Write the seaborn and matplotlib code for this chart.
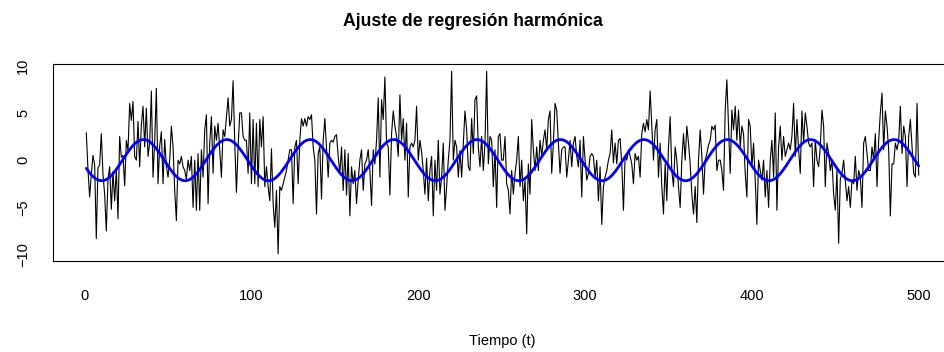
import numpy as np
import pandas as pd
import matplotlib
matplotlib.use("Agg")
import matplotlib.pyplot as plt
import seaborn as sns

# ---- data (t = 1..500) ----
seg01 = [2.9, -1.0, -3.9, -1.5, 0.5, -0.5, -8.3, -0.8, -0.5, 2.8, -1.5, -3.6, -7.5, -2.0, -0.7,
         -5.2, -1.2, -4.3, -1.0, -6.2, 2.5, 0.3, 0.5, -2.7, 2.1, 1.0, 6.0, 4.2, 6.2, 0.4,
         0.0, 4.1, -0.7, 3.7, 5.7, 1.4, 5.5, 0.4, 1.8, 7.3, -1.8, 2.0, 7.6, -2.5]
seg02 = [1.5, 3.0, -2.5, 2.2, -0.6, -1.8, 0.0, 3.6, 1.4, -3.2, -6.4, 0.0, -0.4, 0.4, -0.7,
         -1.1, -2.0, 0.0, -1.1, 0.4, -5.0, 0.0, -5.3, 0.7, -5.3, 1.1, -1.8, 3.2, 4.8, -4.6,
         1.8, 4.6, -1.4, 3.6, 2.1, 3.9, 1.0, -1.8, 3.2, 2.5, 4.6, 6.6, 3.6, 4.3, 8.4]
seg03 = [1.8, -3.4, 1.4, 5.0, 5.0, 2.5, 2.1, 2.1, -1.4, 5.0, -2.5, 4.3, -2.5, 3.9, -2.8,
         4.3, 1.4, 4.6, -2.8, -0.7, -2.8, -4.3, 1.2, -4.6, -7.1, -3.2, -9.9, -2.8, -3.2, -2.5,
         -1.8, -1.1, 0.0, 1.1, 1.1, -4.6, 1.4, 2.1, -2.5, 2.1, 4.4, 3.6, 4.4, 3.6, 4.6]
seg04 = [4.3, 4.8, 1.4, 0.0, -5.7, 0.7, 1.4, -4.1, 2.1, 4.4, 1.4, -1.8, 1.8, 2.1, 1.9,
         2.5, 2.7, 0.4, -1.4, 1.4, -3.2, 1.1, -3.7, 0.7, -5.9, -0.7, -2.5, -1.1, -4.6, -2.1,
         0.0, 1.1, -3.2, -0.4, 0.0, 1.1, -1.1, -4.8, 1.1, -0.4, 2.1, 6.6, -1.8, 6.4, 4.3, 8.8]
seg05 = [1.8, 1.4, -3.7, 2.8, 5.2, 3.6, 2.5, 0.4, 6.9, 2.1, 4.4, 0.0, 3.9, -3.9, 1.4,
         1.8, 1.4, 2.1, 5.7, 0.0, 2.1, 0.9, -1.1, -3.6, 0.2, -4.3, -1.1, 0.4, -5.9, 0.0,
         -3.2, 2.1, -3.6, -1.8, 1.8, -5.3, -2.8, 0.0, 2.1, 9.4, 0.0, 2.1, 1.4, -1.8, 1.0]
seg06 = [-1.8, 1.6, 5.2, 3.2, -0.7, -1.1, 4.4, 0.7, 6.4, 6.8, 1.4, -0.7, 2.5, -1.1, 1.8,
         9.4, -0.4, 2.5, 2.1, -2.8, 1.1, -5.0, 2.5, 2.8, 0.0, 0.0, 2.5, -2.5, -3.2, -5.7,
         -1.1, -3.6, -1.4, 0.0, 2.5, -2.8, 0.0, -4.3, -2.1, -7.8, -0.4, -3.6, 4.3, 1.1, -1.1, 1.4]
seg07 = [-1.1, 2.1, 0.4, 2.1, 3.2, 1.1, 4.3, 5.2, -1.4, 1.8, 6.0, 5.3, 1.8, -1.4, 1.1,
         1.4, 1.4, -1.8, 0.0, 2.1, -0.7, 1.8, 2.5, 0.4, -0.7, 2.1, -3.9, 2.5, 0.0, -2.1,
         -1.4, 0.4, 0.7, 0.4, -1.8, 0.0, -4.3, -0.7, -6.8, -2.8, -1.8, -1.1, 0.0, 0.7, 3.2, -0.3]
seg08 = [1.8, -0.4, 2.1, 2.3, -0.4, -5.3, 0.4, 0.0, 1.1, 0.4, -0.4, -2.5, 0.7, 0.0, 0.4,
         -1.8, 2.8, 3.9, 3.0, 4.3, 3.2, 7.3, 3.6, 0.0, 3.2, 4.3, -1.8, 1.8, -2.8, -5.7,
         -0.4, -4.3, 1.4, 4.6, -1.1, -2.8, 1.4, 0.0, -2.8, -5.0, 0.0, 2.8, 0.0, 3.6, 1.8]
seg09 = [-0.4, -3.6, -5.7, -2.8, -6.6, 0.0, 3.2, 0.4, -3.6, 0.0, 0.7, 1.6, 2.1, 3.6, 3.2,
         3.7, -1.1, 0.0, 0.0, -1.1, -3.2, 5.3, 8.5, 3.6, -1.4, 5.3, 3.2, 5.7, 2.1, 5.3,
         1.4, 3.6, 2.8, -1.4, -3.9, 4.3, 3.6, -0.7, 1.8, -2.1, -6.8, 0.0, -1.1, -2.1, 0.0, -3.9]
seg10 = [-1.1, -5.0, 0.0, 2.1, -1.8, 5.0, -5.3, 1.4, 3.6, 0.0, 2.5, 0.4, 1.1, 1.8, 1.1,
         2.5, 6.0, 0.4, 4.3, 1.1, -1.4, 5.2, 1.8, 5.0, 3.6, 1.8, 1.4, 1.8, -2.8, 2.1,
         0.0, -0.7, 1.4, 5.3, 3.6, -2.8, 1.8, 0.7, -1.1, 0.0, -3.6, -5.3, -1.1, -8.8, -2.0]
seg11 = [-1.4, 0.0, -2.1, -4.3, -2.8, -5.0, -2.1, -2.5, 0.4, -3.2, -1.1, -1.8, -5.0, 1.8, 2.5,
         0.7, -1.1, -1.1, 1.4, 0.0, 2.8, -2.8, 2.1, 5.0, 7.1, 1.1, 5.2, 3.6, 1.1, -5.9,
         -0.4, -0.4, 1.8, 1.1, 2.1, 5.7, 0.7, 3.6, 2.5, -2.8, 2.5, 4.3, 1.4, -1.4, -1.8, 6.0, -1.6]

series = seg01 + seg02 + seg03 + seg04 + seg05 + seg06 + seg07 + seg08 + seg09 + seg10 + seg11
period = 50
x_ticks = [0, 100, 200, 300, 400, 500]
y_ticks = [-10, -5, 0, 5, 10]
title = "Ajuste de regresión harmónica"
xlabel = "Tiempo (t)"

t = np.arange(1, len(series) + 1)
y = np.array(series, dtype=float)

# harmonic regression fit (zero-mean model): y ~ b cos(2 pi t / P) + c sin(2 pi t / P)
X = np.column_stack([np.cos(2 * np.pi * t / period),
                     np.sin(2 * np.pi * t / period)])
coef, *_ = np.linalg.lstsq(X, y, rcond=None)
fit = X @ coef

df = pd.DataFrame({"t": t, "y": y, "fit": fit})

sns.set_theme(style="white")
plt.rcParams["font.family"] = ["Liberation Sans", "DejaVu Sans"]
plt.rcParams["text.color"] = "black"
plt.rcParams["axes.labelcolor"] = "black"
plt.rcParams["xtick.color"] = "black"
plt.rcParams["ytick.color"] = "black"

W, H = 945, 352
fig = plt.figure(figsize=(W / 100, H / 100), dpi=100)
ax = fig.add_axes([53 / W, 1 - 261 / H, (952 - 53) / W, (261 - 64) / H])

sns.lineplot(data=df, x="t", y="y", color="black", lw=0.8, ax=ax)
sns.lineplot(data=df, x="t", y="fit", color="#0000FF", lw=2.0, ax=ax)

# R-like 4% axis extension
xr = t.max() - t.min()
ax.set_xlim(t.min() - 0.04 * xr, t.max() + 0.04 * xr)
yr = y.max() - y.min()
ax.set_ylim(y.min() - 0.04 * yr, y.max() + 0.04 * yr)

ax.set_xticks(x_ticks)
ax.set_yticks(y_ticks)
ax.set_yticklabels([str(v) if v >= 0 else "\u2212" + str(-v) for v in y_ticks],
                   rotation=90, va="center")
ax.tick_params(axis="both", direction="out", length=5.5, width=0.8, colors="black",
               labelsize=10.5)
ax.tick_params(axis="x", pad=15)
ax.tick_params(axis="y", pad=11)
for s in ax.spines.values():
    s.set_visible(True)
    s.set_color("black")
    s.set_linewidth(0.8)

ax.set_xlabel(xlabel, fontsize=10.5, labelpad=22, color="black")
ax.set_ylabel("")
fig.text(473 / W, 1 - 22 / H, title, ha="center", va="center",
         fontsize=12.7, fontweight="bold", color="black")

fig.savefig("out.png", dpi=100)
